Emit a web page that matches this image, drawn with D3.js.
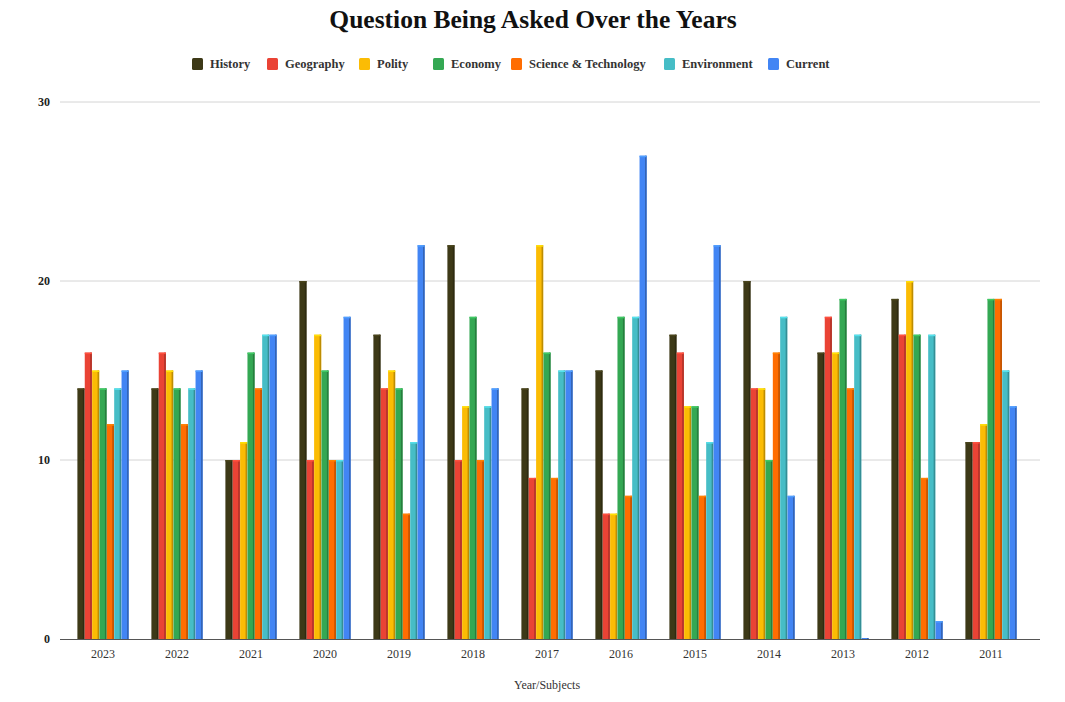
<!DOCTYPE html>
<html><head><meta charset="utf-8">
<script src="https://cdn.jsdelivr.net/npm/d3@7/dist/d3.min.js"></script>
<style>body{margin:0;background:#fff}svg{display:block}text{font-family:"Liberation Serif","DejaVu Serif",serif}</style>
</head><body><div id="chart"></div>
<script>
const years = ["2023","2022","2021","2020","2019","2018","2017","2016","2015","2014","2013","2012","2011"];
const seriesNames = ["History","Geography","Polity","Economy","Science & Technology","Environment","Current"];
const colors = ["#3d3917","#ea4335","#fbbc04","#34a853","#ff6d01","#46bdc6","#4285f4"];
const history     = [14,14,10,20,17,22,14,15,17,20,16,19,11];
const geography   = [16,16,10,10,14,10, 9, 7,16,14,18,17,11];
const polity      = [15,15,11,17,15,13,22, 7,13,14,16,20,12];
const economy     = [14,14,16,15,14,18,16,18,13,10,19,17,19];
const scienceTech = [12,12,14,10, 7,10, 9, 8, 8,16,14, 9,19];
const environment = [14,14,17,10,11,13,15,18,11,18,17,17,15];
const current     = [15,15,17,18,22,14,15,27,22, 8, 0, 1,13];
const yTicks = [0,10,20,30];
const allSeries = [history,geography,polity,economy,scienceTech,environment,current];

(function(){
const W=1065,H=702;
const svg=d3.select("#chart").append("svg").attr("width",W).attr("height",H);
const pl=60,pr=1040,pt=102,pb=639;
const x=d3.scaleBand().domain(years).range([66,1028]).paddingInner(0.3).paddingOuter(0.15);
const xs=d3.scaleBand().domain(seriesNames).range([0,x.bandwidth()]).padding(0.04);
const y=d3.scaleLinear().domain([0,30]).range([pb,pt]);

svg.append("g").selectAll("line").data(yTicks.filter(d=>d>0)).join("line")
  .attr("x1",pl).attr("x2",pr).attr("y1",d=>y(d)).attr("y2",d=>y(d))
  .attr("stroke","#d4d4d4").attr("stroke-width",1);
svg.append("g").selectAll("text").data(yTicks).join("text")
  .attr("x",50).attr("y",d=>y(d)+4).attr("text-anchor","end")
  .attr("font-size",12).attr("font-weight","bold").attr("fill","#222").text(d=>d);

const g=svg.append("g");
allSeries.forEach((vals,si)=>{
  const c=colors[si];
  const dark=d3.color(c).darker(0.8);
  const light=d3.color(c).brighter(0.5);
  years.forEach((yr,i)=>{
    const v=vals[i];
    const bx=x(yr)+xs(seriesNames[si]);
    const bw=xs.bandwidth();
    const yt=y(v);
    const h=Math.max(pb-yt,1);
    g.append("rect").attr("x",bx).attr("y",pb-h).attr("width",bw).attr("height",h).attr("fill",c);
    g.append("rect").attr("x",bx+bw-1.6).attr("y",pb-h).attr("width",1.6).attr("height",h).attr("fill",dark);
    if(v>0) g.append("rect").attr("x",bx).attr("y",pb-h).attr("width",bw).attr("height",1.5).attr("fill",light);
  });
});

svg.append("line").attr("x1",pl).attr("x2",pr).attr("y1",pb+0.5).attr("y2",pb+0.5)
  .attr("stroke","#555").attr("stroke-width",1.2);

const xAxis=d3.axisBottom(x).tickSize(0).tickPadding(10);
const xg=svg.append("g").attr("transform",`translate(0,${pb})`).call(xAxis);
xg.select(".domain").remove();
xg.selectAll("text").attr("font-size",12).attr("fill","#333").style("font-family","Liberation Serif, serif");

svg.append("text").attr("x",547).attr("y",689).attr("text-anchor","middle")
  .attr("font-size",12).attr("fill","#333").text("Year/Subjects");

svg.append("text").attr("x",533).attr("y",28).attr("text-anchor","middle")
  .attr("font-size",25.5).attr("font-weight","bold").attr("fill","#111").text("Question Being Asked Over the Years");

const legendX=[192,267,359,433,511,664,768];
const lg=svg.append("g");
seriesNames.forEach((n,i)=>{
  lg.append("rect").attr("x",legendX[i]).attr("y",58).attr("width",11).attr("height",12).attr("rx",1.5).attr("fill",colors[i]);
  lg.append("text").attr("x",legendX[i]+18).attr("y",68).attr("font-size",12.5).attr("font-weight","bold").attr("fill","#333").text(n);
});
})();
</script></body></html>
